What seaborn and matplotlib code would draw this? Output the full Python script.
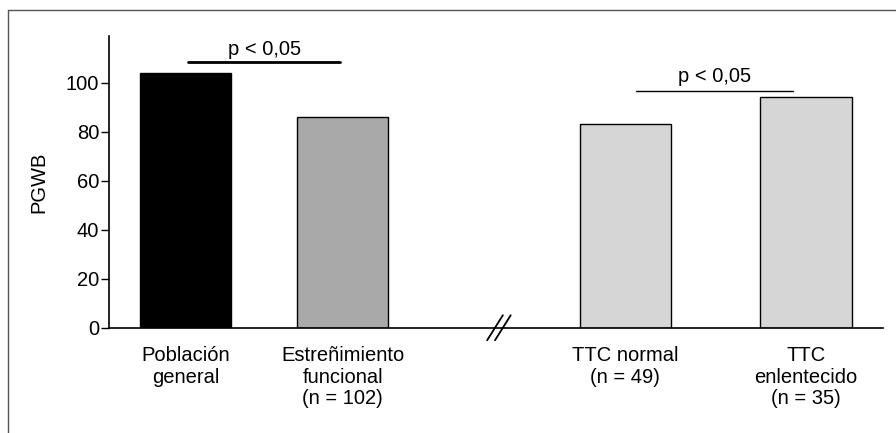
import matplotlib
matplotlib.use("Agg")
import matplotlib.pyplot as plt
import seaborn as sns
from matplotlib.lines import Line2D

# data
labels = ["Población\ngeneral", "Estreñimiento\nfuncional\n(n = 102)",
          "TTC normal\n(n = 49)", "TTC\nenlentecido\n(n = 35)"]
positions = [0.0, 1.0, 2.8, 3.95]
pgwb = [104, 86, 83, 94]
bar_colors = ["#000000", "#a9a9a9", "#d6d6d6", "#d6d6d6"]

sns.set_style("ticks")
plt.rcParams["font.family"] = ["Liberation Sans", "DejaVu Sans"]
plt.rcParams["text.color"] = "black"
plt.rcParams["xtick.color"] = "black"
plt.rcParams["ytick.color"] = "black"
plt.rcParams["axes.labelcolor"] = "black"

FS = 14.5

fig = plt.figure(figsize=(8.96, 4.33), dpi=100)
ax = fig.add_axes([0.1217, 0.2425, 0.8638, 0.6744])

sns.barplot(x=positions, y=pgwb, hue=labels, palette=bar_colors,
            native_scale=True, width=0.58, edgecolor="black", linewidth=1,
            legend=False, ax=ax)

ax.set_xlim(-0.487, 4.44)
ax.set_ylim(0, 119)
ax.set_yticks([0, 20, 40, 60, 80, 100])
ax.set_xticks(positions)
ax.set_xticklabels(labels, fontsize=FS, linespacing=1.17)
ax.tick_params(axis="x", length=0, pad=13)
ax.tick_params(axis="y", length=6, width=1, labelsize=FS, pad=1)
ax.set_ylabel("PGWB", fontsize=FS, labelpad=13)
ax.set_xlabel("")
for s in ["top", "right"]:
    ax.spines[s].set_visible(False)
for s in ["left", "bottom"]:
    ax.spines[s].set_color("black")
    ax.spines[s].set_linewidth(1.2)

# significance bars
ax.plot([0.015, 0.985], [108.2, 108.2], color="black", lw=2, clip_on=False)
ax.text(0.5, 111.4, "p < 0,05", ha="center", va="baseline", fontsize=FS)
ax.plot([2.87, 3.87], [96.7, 96.7], color="black", lw=1, clip_on=False)
ax.text(3.37, 100.2, "p < 0,05", ha="center", va="baseline", fontsize=FS)

# axis break marks
for bx in [1.92, 1.97]:
    ax.plot([bx, bx + 0.1], [-5, 5.2], color="black", lw=1.3, clip_on=False)

# outer frame (top and left only visible)
fig.add_artist(Line2D([8 / 896, 1], [1 - 10 / 433, 1 - 10 / 433], color="#555555", lw=1))
fig.add_artist(Line2D([8 / 896, 8 / 896], [0, 1 - 10 / 433], color="#555555", lw=1))

fig.savefig("out.png", dpi=100)
